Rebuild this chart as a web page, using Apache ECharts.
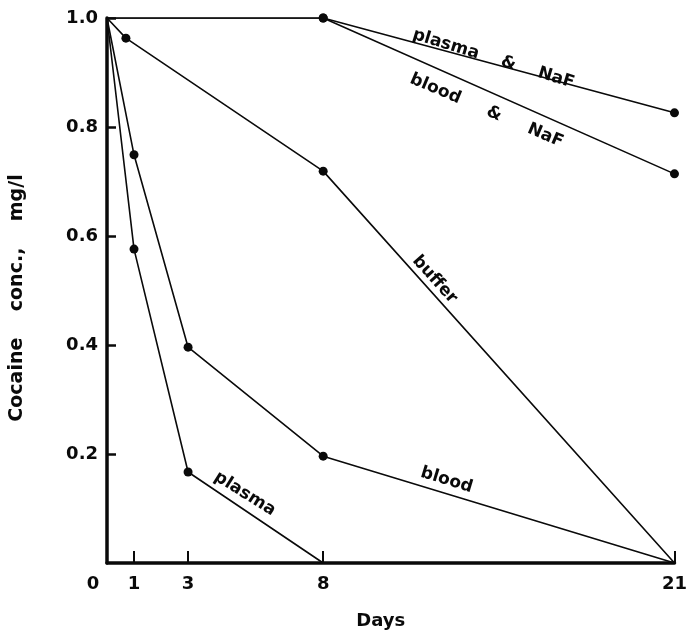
<!DOCTYPE html>
<html>
<head>
<meta charset="utf-8">
<script src="https://cdn.jsdelivr.net/npm/echarts@6/dist/echarts.min.js"></script>
<style>html,body{margin:0;padding:0;background:#fff}#c{width:690px;height:635px}</style>
</head>
<body>
<div id="c"></div>
<script>
// Days and cocaine concentration (mg/l)
const plasmaNaF = [[0, 1.0], [8, 1.0], [21, 0.826]];
const bloodNaF  = [[0, 1.0], [8, 1.0], [21, 0.714]];
const buffer    = [[0, 1.0], [0.7, 0.963], [8, 0.719], [21, 0]];
const blood     = [[0, 1.0], [1, 0.749], [3, 0.396], [8, 0.196], [21, 0]];
const plasma    = [[0, 1.0], [1, 0.576], [3, 0.167], [8, 0]];

const xTicks = [0, 1, 3, 8, 21];
const yTicks = [0.2, 0.4, 0.6, 0.8, 1.0];

const seriesNames = ['plasma & NaF', 'blood & NaF', 'buffer', 'blood', 'plasma'];
const seriesData = [plasmaNaF, bloodNaF, buffer, blood, plasma];

const FONT = 'DejaVu Sans';
const INK = '#0a0a0a';

function pts(arr) {
  return arr.map(p => ({
    value: p,
    symbol: (p[0] === 0 || p[1] === 0) ? 'none' : 'circle'
  }));
}

// curve labels: [text, x(day), y(conc), rotation]
const curveLabels = [
  ['plasma    &    NaF', 14.3, 0.925, -17],
  ['blood     &     NaF', 14.05, 0.83, -23],
  ['buffer', 12.13, 0.52, -48],
  ['blood', 12.57, 0.152, -17],
  ['plasma', 5.1, 0.127, -32]
];

const series = seriesData.map((d, i) => ({
  name: seriesNames[i],
  type: 'line',
  data: pts(d),
  symbolSize: 9,
  itemStyle: { color: INK, opacity: 1 },
  lineStyle: { color: INK, width: 1.6 },
  animation: false,
  z: 3
}));

series.push({
  type: 'scatter',
  symbolSize: 0,
  silent: true,
  animation: false,
  itemStyle: { opacity: 1, color: INK },
  data: curveLabels.map(l => ({
    value: [l[1], l[2]],
    label: {
      show: true,
      formatter: l[0],
      rotate: l[3],
      position: 'inside',
      color: INK,
      fontFamily: FONT,
      fontWeight: 'bold',
      fontSize: 17
    }
  })),
  z: 5
});

const chart = echarts.init(document.getElementById('c'), null, { renderer: 'canvas' });
chart.setOption({
  backgroundColor: '#fff',
  animation: false,
  grid: { left: 107, right: 15, top: 18, bottom: 72, containLabel: false },
  xAxis: {
    type: 'value',
    min: 0,
    max: 21,
    splitLine: { show: false },
    axisLine: { show: true, lineStyle: { color: INK, width: 3.5 } },
    axisTick: {
      show: true, inside: true, length: 12,
      customValues: xTicks.filter(v => v !== 0),
      lineStyle: { color: INK, width: 2 }
    },
    axisLabel: {
      show: true,
      customValues: xTicks,
      margin: 12,
      color: INK,
      fontFamily: FONT,
      fontWeight: 'bold',
      fontSize: 18,
      formatter: v => v === 0 ? '{z|0}' : String(v),
      rich: {
        z: { fontFamily: FONT, fontWeight: 'bold', fontSize: 18, color: INK, padding: [0, 28, 0, 0] }
      }
    },
    name: 'Days',
    nameLocation: 'middle',
    nameGap: 49,
    nameTextStyle: { color: INK, fontFamily: FONT, fontWeight: 'bold', fontSize: 18, padding: [0, 20, 0, 0] }
  },
  yAxis: {
    type: 'value',
    min: 0,
    max: 1.0,
    interval: 0.2,
    splitLine: { show: false },
    axisLine: { show: true, lineStyle: { color: INK, width: 3.5 } },
    axisTick: {
      show: true, inside: true, length: 9,
      customValues: yTicks,
      lineStyle: { color: INK, width: 2.5 }
    },
    axisLabel: {
      show: true,
      customValues: yTicks,
      margin: 9,
      color: INK,
      fontFamily: FONT,
      fontWeight: 'bold',
      fontSize: 18,
      formatter: v => v.toFixed(1)
    },
    name: 'Cocaine    conc.,    mg/l',
    nameLocation: 'middle',
    nameRotate: 90,
    nameGap: 80,
    nameTextStyle: { color: INK, fontFamily: FONT, fontWeight: 'bold', fontSize: 19, padding: [0, 15, 0, 0] }
  },
  series: series
});
</script>
</body>
</html>
